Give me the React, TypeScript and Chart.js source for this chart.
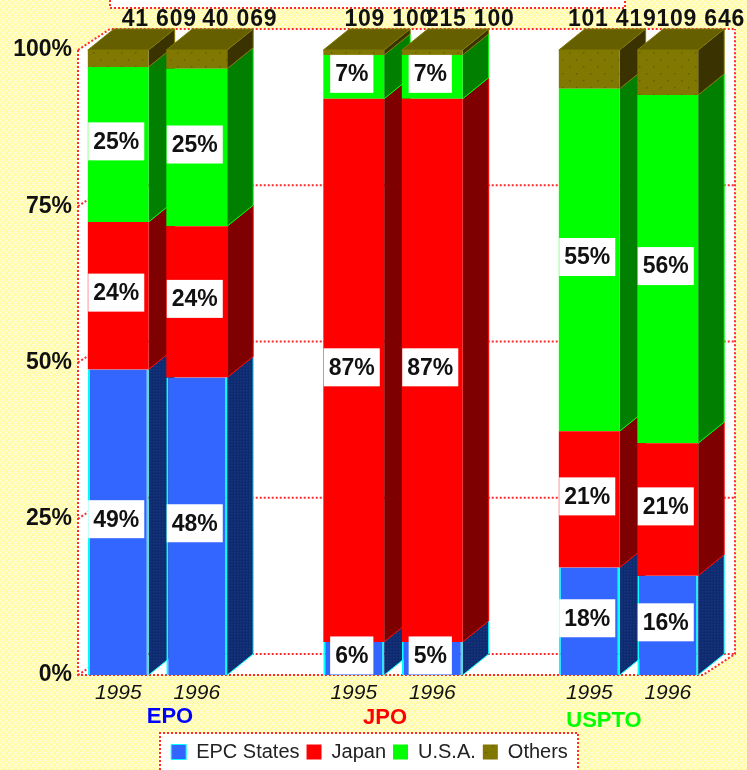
import React, { useEffect, useRef } from "react";
import { Chart, registerables } from "chart.js";

Chart.register(...registerables);

const categories = ["1995", "1996", "", "1995", "1996", "", "1995", "1996"];
const epcStates = [48.9, 47.6, null, 5.3, 5.3, null, 17.2, 15.9];
const japan = [23.6, 24.2, null, 86.9, 86.9, null, 21.8, 21.2];
const usa = [24.8, 25.2, null, 7.0, 7.0, null, 54.8, 55.7];
const others = [2.7, 3.0, null, 0.8, 0.8, null, 6.2, 7.2];

const epcLabels = ["49%", "48%", "", "6%", "5%", "", "18%", "16%"];
const japanLabels = ["24%", "24%", "", "87%", "87%", "", "21%", "21%"];
const usaLabels = ["25%", "25%", "", "7%", "7%", "", "55%", "56%"];

const totals = ["41 609", "40 069", "", "109 100", "215 100", "", "101 419", "109 646"];
const totalShift = [41, 43, 0, 35, 38, 0, 23, 33];

const offices = ["EPO", "JPO", "USPTO"];
const officeColors = ["#0000FF", "#FF0000", "#00FF00"];
const officeX = [170, 385, 604];
const officeY = [717, 718, 721];

const SANS = '"Liberation Sans", Arial, sans-serif';
const DX = 26;
const DY = 21;
const WALL_DX = 32;
const WALL_DY = 21;
const DOT = "#FF2A2A";

function makePattern(base: string, dot: string, size: number, points: number[][]) {
  const c = document.createElement("canvas");
  c.width = size;
  c.height = size;
  const g = c.getContext("2d")!;
  g.fillStyle = base;
  g.fillRect(0, 0, size, size);
  g.fillStyle = dot;
  points.forEach(([x, y]) => g.fillRect(x, y, 1.5, 1.5));
  return g.createPattern(c, "repeat")!;
}

function hatchPattern() {
  const c = document.createElement("canvas");
  c.width = 6;
  c.height = 6;
  const g = c.getContext("2d")!;
  for (let y = 0; y < 6; y++) {
    for (let x = 0; x < 6; x++) {
      const line = (x + y) % 6 === 0 || (x - y + 6) % 6 === 0;
      g.fillStyle = line ? "#FFFFE8" : "#FFFBA8";
      g.fillRect(x, y, 1, 1);
    }
  }
  return g.createPattern(c, "repeat")!;
}

function dotted(ctx: CanvasRenderingContext2D, pts: number[][]) {
  ctx.save();
  ctx.strokeStyle = DOT;
  ctx.lineWidth = 2;
  ctx.setLineDash([2, 2]);
  ctx.beginPath();
  pts.forEach(([x, y], i) => (i ? ctx.lineTo(x, y) : ctx.moveTo(x, y)));
  ctx.stroke();
  ctx.restore();
}

export default function App() {
  const ref = useRef<HTMLCanvasElement | null>(null);

  useEffect(() => {
    document.body.style.margin = "0";
    const canvas = ref.current!;
    const blueSide = makePattern("#0F2B70", "#18367F", 3, [[0, 0]]);
    const oliveFront = makePattern("#807800", "#665F00", 14, [[2, 3], [9, 10]]);
    const sideFill: any[] = [blueSide, "#7F0000", "#007F00", "#3A3200"];
    const edge = ["#00FFFF", "#FF0000", "#00FF00", "#807800"];
    const bg = hatchPattern();

    const threeD = {
      id: "threeD",
      afterLayout(chart: any) {
        chart.legend.left += 16;
        chart.legend.right += 16;
        chart.legend.top += 2;
      },
      beforeDraw(chart: any) {
        const { ctx, width, height } = chart;
        ctx.save();
        ctx.fillStyle = bg;
        ctx.fillRect(0, 0, width, height);

        // title box cut by the top of the picture
        ctx.fillStyle = "#FFFFFF";
        ctx.fillRect(110, 0, 515, 8);
        dotted(ctx, [[110, 0], [110, 8], [625, 8], [625, 0]]);

        // legend panel
        const panelTop = chart.legend.top - 2;
        ctx.fillStyle = "#FFFFFF";
        ctx.fillRect(160, panelTop, 418, height - panelTop);
        dotted(ctx, [[160, height], [160, panelTop], [578, panelTop], [578, height]]);
        ctx.restore();
      },
      beforeDatasetsDraw(chart: any) {
        const { ctx, scales } = chart;
        const y = scales.y;
        const left = chart.chartArea.left - 1;
        const floorR = 703;
        const base = y.getPixelForValue(0);
        const top = y.getPixelForValue(100);
        const wR = floorR + WALL_DX;
        const wL = left + WALL_DX;

        ctx.save();
        ctx.fillStyle = "#FFFFFF";
        ctx.beginPath();
        ctx.moveTo(left, top);
        ctx.lineTo(wL, top - WALL_DY);
        ctx.lineTo(wR, top - WALL_DY);
        ctx.lineTo(wR, base - WALL_DY);
        ctx.lineTo(floorR, base);
        ctx.lineTo(left, base);
        ctx.closePath();
        ctx.fill();
        ctx.restore();

        y.ticks.forEach((t: any) => {
          const py = y.getPixelForValue(t.value);
          dotted(ctx, [[left, py], [wL, py - WALL_DY], [wR, py - WALL_DY]]);
        });
        dotted(ctx, [[left, top], [left, base], [floorR, base], [wR, base - WALL_DY], [wR, top - WALL_DY]]);

        const n = categories.length;
        for (let j = 0; j < n; j++) {
          if (epcStates[j] === null) continue;
          for (let i = 0; i < 4; i++) {
            const el: any = chart.getDatasetMeta(i).data[j];
            const R = el.x + el.width / 2;
            ctx.fillStyle = sideFill[i];
            ctx.strokeStyle = edge[i];
            ctx.lineWidth = 1;
            ctx.beginPath();
            ctx.moveTo(R, el.base);
            ctx.lineTo(R + DX, el.base - DY);
            ctx.lineTo(R + DX, el.y - DY);
            ctx.lineTo(R, el.y);
            ctx.closePath();
            ctx.fill();
            ctx.beginPath();
            ctx.moveTo(R, el.base);
            ctx.lineTo(R + DX, el.base - DY);
            ctx.lineTo(R + DX, el.y - DY);
            ctx.stroke();
          }
          const t: any = chart.getDatasetMeta(3).data[j];
          const L = t.x - t.width / 2;
          const R = t.x + t.width / 2;
          ctx.fillStyle = "#665F00";
          ctx.strokeStyle = "#807800";
          ctx.lineWidth = 1;
          ctx.beginPath();
          ctx.moveTo(L, t.y);
          ctx.lineTo(L + DX, t.y - DY);
          ctx.lineTo(R + DX, t.y - DY);
          ctx.lineTo(R, t.y);
          ctx.closePath();
          ctx.fill();
          ctx.stroke();
        }
      },
      afterDatasetsDraw(chart: any) {
        const { ctx } = chart;
        const sets = [epcLabels, japanLabels, usaLabels];
        ctx.save();
        ctx.font = `bold 23px ${SANS}`;
        ctx.textAlign = "center";
        ctx.textBaseline = "middle";
        sets.forEach((labels, i) => {
          labels.forEach((text, j) => {
            if (!text) return;
            const el: any = chart.getDatasetMeta(i).data[j];
            const w = ctx.measureText(text).width + 10;
            const h = 38;
            const cx = el.x - 2;
            const cy = (el.y + el.base) / 2 - 3;
            ctx.fillStyle = "#FFFFFF";
            ctx.fillRect(cx - w / 2, cy - h / 2, w, h);
            ctx.fillStyle = "#111111";
            ctx.fillText(text, cx, cy + 1);
          });
        });
        ctx.restore();
      },
      afterDraw(chart: any) {
        const { ctx } = chart;
        ctx.save();
        ctx.font = `bold 22px ${SANS}`;
        ctx.textAlign = "center";
        ctx.textBaseline = "middle";
        offices.forEach((name, i) => {
          ctx.fillStyle = officeColors[i];
          ctx.fillText(name, officeX[i], officeY[i]);
        });
        ctx.fillStyle = "#111111";
        ctx.font = `bold 23px ${SANS}`;
        (ctx as any).letterSpacing = "0.8px";
        totals.forEach((text, j) => {
          if (!text) return;
          const el: any = chart.getDatasetMeta(0).data[j];
          ctx.fillText(text, el.x + totalShift[j], 20);
        });
        ctx.restore();
      },
    };

    const bar = (label: string, data: any[], backgroundColor: any, borderColor: string, borderWidth: any) => ({
      label,
      data,
      backgroundColor,
      borderColor,
      borderWidth,
      borderSkipped: false,
      categoryPercentage: 1,
      barPercentage: 0.775,
    });

    const chart = new Chart(canvas, {
      type: "bar",
      data: {
        labels: categories,
        datasets: [
          bar("EPC States", epcStates, "#3366FF", "#00FFFF", { left: 2, right: 2, top: 0, bottom: 0 }),
          bar("Japan", japan, "#FF0000", "#FF0000", 0),
          bar("U.S.A.", usa, "#00FF00", "#00FF00", 0),
          bar("Others", others, oliveFront, "#807800", 0),
        ],
      },
      options: {
        responsive: false,
        animation: false,
        events: [],
        layout: { padding: { top: 50, right: 40, left: 0, bottom: 0 } },
        plugins: {
          tooltip: { enabled: false },
          title: { display: false },
          legend: {
            position: "bottom",
            labels: {
              boxWidth: 15,
              boxHeight: 15,
              padding: 7,
              color: "#222222",
              font: { family: SANS, size: 20 },
            },
          },
        },
        scales: {
          x: {
            stacked: true,
            grid: { display: false, drawTicks: false },
            border: { display: false },
            afterFit: (s: any) => {
              s.height = 58;
            },
            ticks: {
              autoSkip: false,
              maxRotation: 0,
              minRotation: 0,
              padding: 6,
              color: "#111111",
              font: { family: SANS, size: 21, style: "italic" },
            },
          },
          y: {
            stacked: true,
            min: 0,
            max: 100,
            grid: { display: false, drawTicks: false },
            border: { display: false },
            afterFit: (s: any) => {
              s.width = 79;
            },
            ticks: {
              stepSize: 25,
              padding: 7,
              color: "#111111",
              font: { family: SANS, size: 23, weight: "bold" },
              callback: (v: any) => `${v}%`,
            },
          },
        },
      },
      plugins: [threeD],
    } as any);

    return () => chart.destroy();
  }, []);

  return (
    <canvas
      ref={ref}
      width={747}
      height={770}
      style={{ display: "block", position: "fixed", left: 0, top: 0, width: 747, height: 770 }}
    />
  );
}
